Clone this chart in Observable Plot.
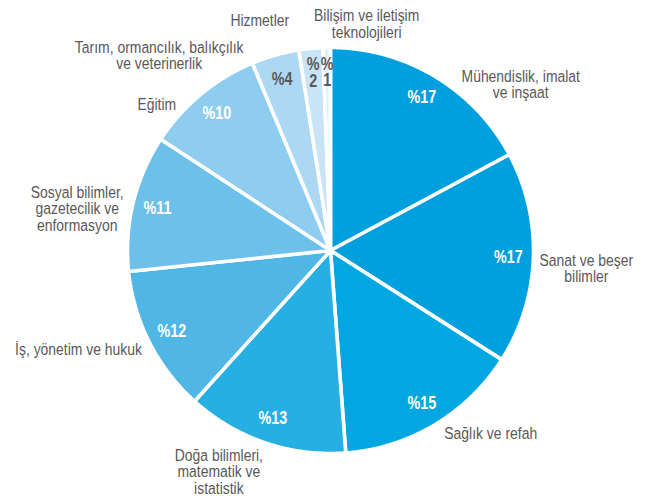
<!DOCTYPE html>
<html><head><meta charset="utf-8">
<script src="https://cdn.jsdelivr.net/npm/d3@7"></script>
<script src="https://cdn.jsdelivr.net/npm/@observablehq/plot@0.6"></script>
<style>body{margin:0;background:#fff}</style>
</head><body><div id="chart"></div>
<script>
// ---- data ----
const categories = [
  "Mühendislik, imalat ve inşaat", "Sanat ve beşer bilimler", "Sağlık ve refah",
  "Doğa bilimleri, matematik ve istatistik", "İş, yönetim ve hukuk",
  "Sosyal bilimler, gazetecilik ve enformasyon", "Eğitim",
  "Tarım, ormancılık, balıkçılık ve veterinerlik", "Hizmetler",
  "Bilişim ve iletişim teknolojileri"
];
const categoryLabels = [
  "Mühendislik, imalat\nve inşaat", "Sanat ve beşer\nbilimler", "Sağlık ve refah",
  "Doğa bilimleri,\nmatematik ve\nistatistik", "İş, yönetim ve hukuk",
  "Sosyal bilimler,\ngazetecilik ve\nenformasyon", "Eğitim",
  "Tarım, ormancılık, balıkçılık\nve veterinerlik", "Hizmetler",
  "Bilişim ve iletişim\nteknolojileri"
];
const shares = [17.2, 16.9, 14.8, 12.9, 11.7, 10.9, 9.5, 3.8, 1.9, 0.6];
const percentLabels = ["%17", "%17", "%15", "%13", "%12", "%11", "%10", "%4", "%\n2", "%\n1"];

// ---- styles / layout ----
const sliceColors = ["#009fdd", "#009fdd", "#00a7e0", "#25afe3", "#4fb6e6", "#6dc0ea",
                     "#8ecdf0", "#acd8f3", "#c8e4f6", "#e0f0fa"];
const percentColors = ["#fff", "#fff", "#fff", "#fff", "#fff", "#fff", "#fff", "#595959", "#595959", "#595959"];
// pixel nudges of the outer labels from the slice mid-point on the rim
const labelNudge = [[86, 22], [53, 24], [56, 14], [-46, 51], [-71, 13], [-56, 28], [-44, 16], [-116, 14], [-51, -22], [40, -10]];
const R = 203, CX = 330, CY = 250, W = 647, H = 500;
const FONT = "'Liberation Sans', Arial, sans-serif";
const NARROW = 0.82; // horizontal squeeze to imitate a narrow face

// ---- geometry from data ----
const pie = d3.pie().sort(null).value(d => d.share)(
  categories.map((c, i) => ({category: c, share: shares[i], i}))
);
const slicePts = [];
for (const a of pie) {
  const i = a.data.i;
  slicePts.push({i, x: 0, y: 0});
  const steps = Math.max(2, Math.ceil((a.endAngle - a.startAngle) / 0.005));
  for (let k = 0; k <= steps; k++) {
    const t = a.startAngle + (a.endAngle - a.startAngle) * k / steps;
    slicePts.push({i, x: Math.sin(t), y: Math.cos(t)});
  }
  slicePts.push({i, x: 0, y: 0});
}
const mids = pie.map(a => ({i: a.data.i, m: (a.startAngle + a.endAngle) / 2}));
const pctR = 0.877;

const marks = [
  Plot.line(slicePts, {
    x: "x", y: "y", z: "i",
    fill: d => sliceColors[d.i],
    stroke: "#fff", strokeWidth: 3.6, strokeLinejoin: "miter", curve: "linear"
  }),
  Plot.text(mids, {
    x: d => pctR * Math.sin(d.m), y: d => pctR * Math.cos(d.m),
    text: d => percentLabels[d.i], fill: d => percentColors[d.i],
    fontFamily: FONT, fontSize: 17.5, fontWeight: "bold", lineHeight: 0.95,
    textAnchor: "middle", lineAnchor: "middle"
  })
];
for (const d of mids) {
  const [dx, dy] = labelNudge[d.i];
  marks.push(Plot.text([d], {
    x: v => Math.sin(v.m), y: v => Math.cos(v.m),
    text: v => categoryLabels[v.i], dx, dy,
    fill: "#595959", fontFamily: FONT, fontSize: 17, lineHeight: 0.97,
    textAnchor: "middle", lineAnchor: "bottom"
  }));
}

const chart = Plot.plot({
  width: W, height: H,
  marginLeft: CX - R, marginRight: W - CX - R,
  marginTop: CY - R, marginBottom: H - CY - R,
  x: {domain: [-1, 1], axis: null},
  y: {domain: [-1, 1], axis: null},
  color: {type: "identity"},
  style: {background: "#fff", overflow: "visible"},
  marks
});
chart.querySelectorAll("text").forEach(t => {
  const tr = t.getAttribute("transform") || "";
  t.setAttribute("transform", tr + ` scale(${NARROW},1)`);
});
document.getElementById("chart").appendChild(chart);
</script>
</body></html>
